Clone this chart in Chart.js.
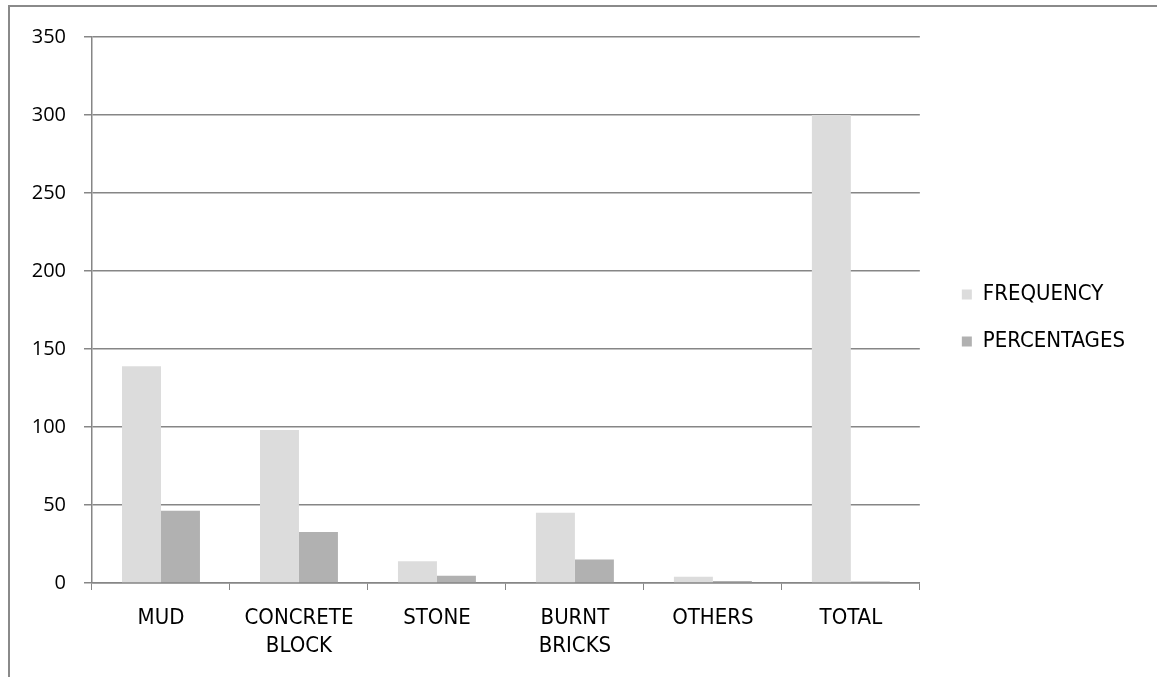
<!DOCTYPE html>
<html>
<head>
<meta charset="utf-8">
<script src="https://cdn.jsdelivr.net/npm/chart.js@4"></script>
<style>
  html, body { margin: 0; padding: 0; background: #fff; }
  #frame {
    position: absolute; left: 8px; top: 5px; width: 1200px; height: 700px;
    border-left: 2px solid #8a8a8a; border-top: 2px solid #8a8a8a;
  }
  #wrap { position: absolute; left: 0; top: 0; width: 1157px; height: 677px; }
</style>
</head>
<body>
<div id="frame"></div>
<div id="wrap"><canvas id="c" width="1157" height="677"></canvas></div>
<script>
// Walling material of houses: counts and shares
const categories = ["MUD", ["CONCRETE", "BLOCK"], "STONE", ["BURNT", "BRICKS"], "OTHERS", "TOTAL"];
const frequency = [139, 98, 14, 45, 4, 300];
const percentages = [46.3, 32.7, 4.7, 15, 1.3, 1];
const yTicks = [0, 50, 100, 150, 200, 250, 300, 350];

const axisGrey = '#868686';
const labelFont = { family: "'Liberation Sans Narrow', 'DejaVu Sans Condensed', sans-serif", size: 22, lineHeight: 1.25 };
const legendFont = { family: "'Liberation Sans Narrow', 'DejaVu Sans Condensed', sans-serif", size: 22 };
const tickFont = { family: "'Open Sans', 'Noto Sans', sans-serif", size: 20 };

// Nudge the legend block so it sits apart from the plot, slightly above centre
const legendOffset = {
  id: 'legendOffset',
  afterLayout(chart) {
    const l = chart.legend;
    if (!l) return;
    const dx = 17, dy = -39;
    l.left += dx; l.right += dx;
    l.top += dy; l.bottom += dy;
  }
};

new Chart(document.getElementById('c'), {
  type: 'bar',
  data: {
    labels: categories,
    datasets: [
      { label: 'FREQUENCY', data: frequency, backgroundColor: '#dcdcdc' },
      { label: 'PERCENTAGES', data: percentages, backgroundColor: '#b1b1b1' }
    ]
  },
  plugins: [legendOffset],
  options: {
    responsive: false,
    animation: false,
    devicePixelRatio: 1,
    layout: { padding: { top: 37, right: 39, left: 0, bottom: 0 } },
    datasets: { bar: { barPercentage: 1, categoryPercentage: 0.565 } },
    plugins: {
      tooltip: { enabled: false },
      legend: {
        position: 'right',
        labels: {
          color: '#000',
          font: legendFont,
          boxWidth: 10,
          boxHeight: 10,
          padding: 25
        }
      }
    },
    scales: {
      x: {
        afterFit: s => { s.height = 94; },
        grid: { drawOnChartArea: false, color: axisGrey, tickLength: 7, offset: true },
        border: { color: axisGrey, width: 1.5 },
        ticks: { color: '#000', font: labelFont, padding: 15, maxRotation: 0, autoSkip: false }
      },
      y: {
        min: 0,
        max: 350,
        afterFit: s => { s.width = 92; },
        afterBuildTicks: s => { s.ticks = yTicks.map(v => ({ value: v })); },
        grid: { color: axisGrey, lineWidth: 1.5, tickLength: 8 },
        border: { color: axisGrey, width: 1.5 },
        ticks: { color: '#000', font: tickFont, padding: 18 }
      }
    }
  }
});
</script>
</body>
</html>
